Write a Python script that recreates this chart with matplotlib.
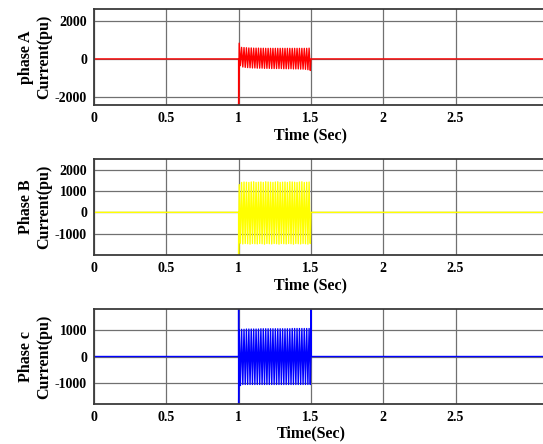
import numpy as np
import matplotlib
matplotlib.use('Agg')
import matplotlib.pyplot as plt

# Data
# --------------
t_fault = 1.0      # fault start (s)
t_clear = 1.5      # fault cleared (s)
n_cycles = 30      # oscillation cycles seen during the fault

# phase A: spike at fault start, then peaks per cycle
spike_a = [-2600]
upper_a = [820, 600, 590, 580, 570, 570, 560, 560, 560, 555, 555, 550, 550, 550, 550,
           550, 550, 550, 550, 550, 550, 550, 550, 550, 550, 550, 550, 550, 550, 560]
lower_a = [-350, -420, -440, -450, -460, -470, -470, -480, -480, -480, -490, -490, -490, -500, -500,
           -500, -500, -500, -510, -510, -510, -510, -520, -520, -520, -530, -530, -540, -560, -600]

# phase B
spike_b = [-2000]
upper_b = [1300, 1400, 1420, 1410, 1400, 1420, 1430, 1400, 1410, 1420, 1400, 1430, 1420, 1410, 1400,
           1420, 1430, 1400, 1410, 1420, 1400, 1430, 1420, 1410, 1400, 1420, 1430, 1400, 1410, 1420]
lower_b = [-1450, -1480, -1460, -1470, -1490, -1460, -1470, -1480, -1460, -1470, -1490, -1460, -1470, -1480, -1460,
           -1470, -1490, -1460, -1470, -1480, -1460, -1470, -1490, -1460, -1470, -1480, -1460, -1470, -1490, -1460]

# phase C
spike_c = [2000, -2000]
upper_c = [1020, 1030, 1030, 1040, 1040, 1040, 1040, 1040, 1040, 1050, 1050, 1050, 1050, 1050, 1050,
           1050, 1050, 1050, 1050, 1050, 1050, 1050, 1060, 1060, 1060, 1060, 1060, 1060, 1060, 1060]
lower_c = [-1100, -1060, -1060, -1060, -1060, -1060, -1060, -1060, -1060, -1060, -1060, -1060, -1060, -1060, -1060,
           -1060, -1060, -1060, -1060, -1060, -1060, -1060, -1060, -1060, -1060, -1060, -1060, -1060, -1060, -1060]
end_spike_c = [2000]

t_end = 3.2
x_ticks = [0, 0.5, 1, 1.5, 2, 2.5]
x_ticklabels = ['0', '0.5', '1', '1.5', '2', '2.5']


def build_trace(spike, upper, lower, end_spike=()):
    # zero before the fault, spike, alternating peaks, zero after
    t = [0, t_fault] + [t_fault] * len(spike)
    y = [0, 0] + list(spike)
    tp = np.linspace(t_fault, t_clear, 2 * n_cycles + 1)[1:]
    for k in range(n_cycles):
        t += [tp[2 * k] - (tp[1] - tp[0]) * 0.5, tp[2 * k + 1] - (tp[1] - tp[0]) * 0.5]
        y += [upper[k], lower[k]]
    t += [t_clear] + [t_clear] * len(end_spike) + [t_clear, t_end]
    y += [0] + list(end_spike) + [0, 0]
    return np.array(t), np.array(y)


# Figure
# --------------
plt.rcParams['font.family'] = ['Liberation Serif', 'DejaVu Serif']
plt.rcParams['font.weight'] = 'bold'
plt.rcParams['axes.unicode_minus'] = False

fig = plt.figure(figsize=(5.43, 4.44), dpi=100)
fig.patch.set_facecolor('white')

x0 = 94 / 543
w_px = t_end * 144.6
w = w_px / 543

panels = [
    dict(top=9, bottom=105, ylim=(-2400, 2600), yticks=[-2000, 0, 2000],
         color='#ff0000', label='phase A\nCurrent(pu)', xlabel='Time (Sec)',
         data=(spike_a, upper_a, lower_a, ())),
    dict(top=159, bottom=255, ylim=(-2000, 2500), yticks=[-1000, 0, 1000, 2000],
         color='#ffff00', label='Phase B\nCurrent(pu)', xlabel='Time (Sec)',
         data=(spike_b, upper_b, lower_b, ())),
    dict(top=309, bottom=404, ylim=(-1800, 1800), yticks=[-1000, 0, 1000],
         color='#0000ff', label='Phase c\nCurrent(pu)', xlabel='Time(Sec)',
         data=(spike_c, upper_c, lower_c, end_spike_c)),
]

for p in panels:
    ax = fig.add_axes([x0, 1 - p['bottom'] / 444, w, (p['bottom'] - p['top']) / 444])
    t, y = build_trace(*p['data'])
    ax.plot(t, y, color=p['color'], linewidth=1.0)
    ax.set_xlim(0, t_end)
    ax.set_ylim(*p['ylim'])
    ax.set_xticks(x_ticks)
    ax.set_xticklabels(x_ticklabels)
    ax.set_yticks(p['yticks'])
    ax.grid(True, color='#707070', linewidth=0.9)
    ax.set_axisbelow(True)
    ax.tick_params(length=0, labelsize=10, pad=5)
    for s in ax.spines.values():
        s.set_color('#3a3a3a')
        s.set_linewidth(1.3)
    ax.set_ylabel(p['label'], fontsize=11.5, fontweight='bold', labelpad=2)
    ax.set_xlabel(p['xlabel'], fontsize=11.5, fontweight='bold', labelpad=1)
    ax.xaxis.set_label_coords((311 - 94) / w_px, -0.23)

plt.savefig('out.png', dpi=100, facecolor='white')
